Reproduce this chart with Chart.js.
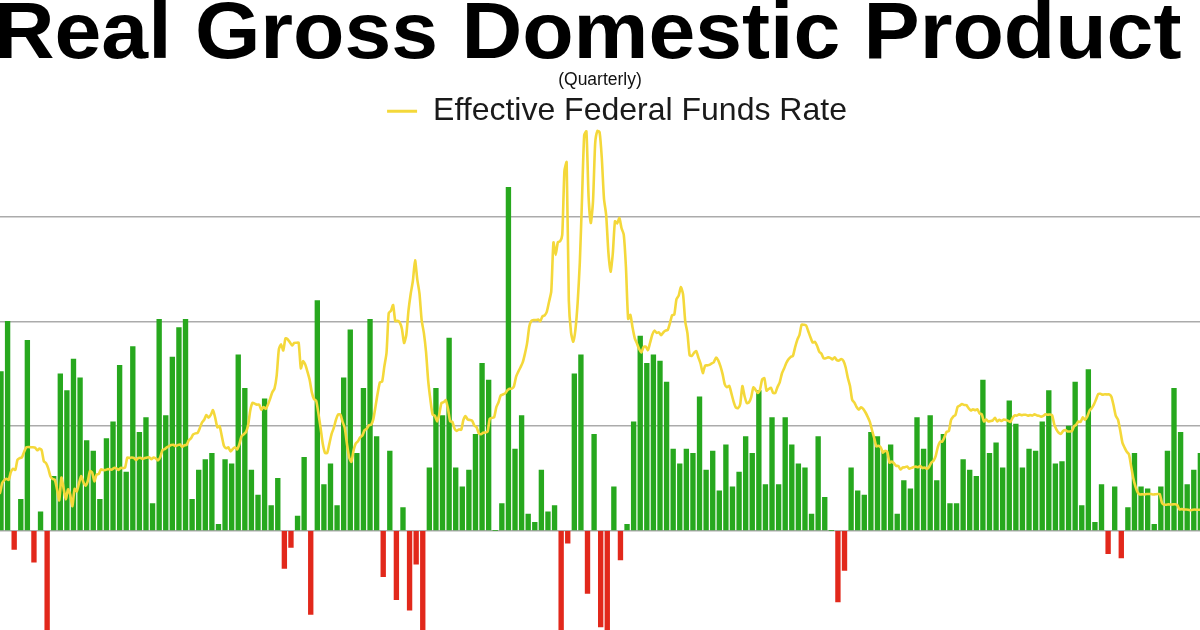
<!DOCTYPE html>
<html>
<head>
<meta charset="utf-8">
<title>Real Gross Domestic Product</title>
<script src="https://cdn.jsdelivr.net/npm/chart.js@4.4.0/dist/chart.umd.min.js"></script>
<style>
  html, body { margin: 0; padding: 0; background: #ffffff; overflow: hidden; }
  #wrap { position: relative; width: 1200px; height: 630px; }
</style>
</head>
<body>
<div id="wrap"><canvas id="chart"></canvas></div>
<script>
// ---------------- DATA ----------------
const chartTitle = 'Real Gross Domestic Product';
const chartSubtitle = '(Quarterly)';
const lineLabel = 'Effective Federal Funds Rate';

// Real GDP, quarterly % change (annualized), first value = 1959 Q1
const gdpStartYear = 1959;
const gdpGrowth = [
  7.6, 10.0, -0.9, 1.5,    9.1, -1.5, 0.9, -5.0,    2.6, 7.5, 6.7, 8.2,     7.3, 4.3, 3.8, 1.5,
  4.4, 5.2, 7.9, 2.8,      8.8, 4.7, 5.4, 1.3,      10.1, 5.5, 8.3, 9.7,    10.1, 1.5, 2.9, 3.4,
  3.7, 0.3, 3.4, 3.2,      8.4, 6.8, 2.9, 1.7,      6.3, 1.2, 2.5, -1.8,    -0.8, 0.7, 3.5, -4.0,
  11.0, 2.2, 3.2, 1.2,     7.3, 9.6, 3.7, 6.8,      10.1, 4.5, -2.2, 3.8,   -3.3, 1.1, -3.8, -1.6,
  -4.8, 3.0, 6.8, 5.5,     9.2, 3.0, 2.1, 2.9,      4.6, 8.0, 7.2, 0.0,     1.3, 16.4, 3.9, 5.5,
  0.8, 0.4, 2.9, 0.9,      1.2, -8.0, -0.6, 7.5,    8.4, -3.0, 4.6, -4.6,   -6.1, 2.1, -1.4, 0.3,
  5.2, 9.3, 8.0, 8.4,      8.1, 7.1, 3.9, 3.2,      3.9, 3.7, 6.4, 2.9,     3.8, 1.9, 4.1, 2.1,
  2.8, 4.5, 3.7, 6.7,      2.2, 5.4, 2.2, 5.4,      4.1, 3.2, 3.0, 0.8,     4.5, 1.6, 0.0, -3.4,
  -1.9, 3.0, 1.9, 1.7,     4.7, 4.5, 3.8, 4.1,      0.8, 2.4, 2.0, 5.4,     3.9, 5.5, 2.4, 4.6,
  1.3, 1.3, 3.4, 2.9,      2.6, 7.2, 3.7, 4.2,      3.0, 6.2, 5.1, 3.0,     3.9, 3.8, 5.2, 6.7,
  3.2, 3.3, 5.0, 7.1,      1.2, 7.7, 0.4, 2.2,      -1.1, 2.1, -1.3, 1.1,   3.7, 2.1, 2.0, 0.3,
  2.1, 3.8, 6.8, 4.7,      2.2, 2.9, 3.7
];

// Effective federal funds rate, monthly %, first value = Sep 1958
const fedFundsStart = { year: 1958, month: 9 };
const fedFunds = [
  1.76, 1.80, 2.27, 2.42,
  2.48, 2.43, 2.80, 2.96, 2.90, 3.39, 3.47, 3.50, 3.76, 3.98, 4.00, 3.99,
  3.99, 3.97, 3.84, 3.92, 3.85, 3.32, 3.23, 2.98, 2.60, 2.47, 2.44, 1.98,
  1.45, 2.54, 2.02, 1.49, 1.98, 1.73, 1.17, 2.00, 1.88, 2.26, 2.61, 2.33,
  2.15, 2.37, 2.85, 2.78, 2.36, 2.68, 2.71, 2.93, 2.90, 2.90, 2.94, 2.93,
  2.92, 3.00, 2.98, 2.90, 3.00, 2.99, 3.02, 3.49, 3.48, 3.50, 3.48, 3.38,
  3.48, 3.48, 3.43, 3.47, 3.50, 3.50, 3.42, 3.50, 3.45, 3.36, 3.52, 3.85,
  3.90, 3.98, 4.04, 4.09, 4.10, 4.04, 4.09, 4.12, 4.01, 4.08, 4.10, 4.32,
  4.42, 4.60, 4.65, 4.67, 4.90, 5.17, 5.30, 5.53, 5.40, 5.53, 5.76, 5.40,
  4.94, 5.00, 4.53, 4.05, 3.94, 3.98, 3.79, 3.90, 3.99, 3.88, 4.13, 4.51,
  4.61, 4.71, 5.05, 5.76, 6.11, 6.07, 6.02, 6.03, 5.78, 5.91, 5.82, 6.02,
  6.30, 6.61, 6.79, 7.41, 8.67, 8.90, 8.61, 9.19, 9.15, 9.00, 8.85, 8.97,
  8.98, 8.98, 7.76, 8.10, 7.94, 7.60, 7.21, 6.61, 6.29, 6.20, 5.60, 4.90,
  4.14, 3.72, 3.71, 4.16, 4.63, 4.91, 5.31, 5.56, 5.55, 5.20, 4.91, 4.14,
  3.50, 3.29, 3.83, 4.17, 4.27, 4.46, 4.55, 4.80, 4.87, 5.04, 5.06, 5.33,
  5.94, 6.58, 7.09, 7.12, 7.84, 8.49, 10.40, 10.50, 10.78, 10.01, 10.03, 9.95,
  9.65, 8.97, 9.35, 10.51, 11.31, 11.93, 12.92, 12.01, 11.34, 10.06, 9.45, 8.53,
  7.13, 6.24, 5.54, 5.49, 5.22, 5.55, 6.10, 6.14, 6.24, 5.82, 5.22, 5.20,
  4.87, 4.77, 4.84, 4.82, 5.29, 5.48, 5.31, 5.29, 5.25, 5.02, 4.95, 4.65,
  4.61, 4.68, 4.69, 4.73, 5.35, 5.39, 5.42, 5.90, 6.14, 6.47, 6.51, 6.56,
  6.70, 6.78, 6.79, 6.89, 7.36, 7.60, 7.81, 8.04, 8.45, 8.96, 9.76, 10.03,
  10.07, 10.06, 10.09, 10.01, 10.24, 10.29, 10.47, 10.94, 11.43, 13.77, 13.18, 13.78,
  13.82, 14.13, 17.19, 17.61, 10.98, 9.47, 9.03, 9.61, 10.87, 12.81, 15.85, 18.90,
  19.08, 15.93, 14.70, 15.72, 18.52, 19.10, 19.04, 17.82, 15.87, 15.08, 13.31, 12.37,
  13.22, 14.78, 14.68, 14.94, 14.45, 14.15, 12.59, 10.12, 10.31, 9.71, 9.20, 8.95,
  8.68, 8.51, 8.77, 8.80, 8.63, 8.98, 9.37, 9.56, 9.45, 9.48, 9.34, 9.47,
  9.56, 9.59, 9.91, 10.29, 10.32, 11.06, 11.23, 11.64, 11.30, 9.99, 9.43, 8.38,
  8.35, 8.50, 8.58, 8.27, 7.97, 7.53, 7.88, 7.90, 7.92, 7.99, 8.05, 8.27,
  8.14, 7.86, 7.48, 6.99, 6.85, 6.92, 6.56, 6.17, 5.89, 5.85, 6.04, 6.91,
  6.43, 6.10, 6.13, 6.37, 6.85, 6.73, 6.58, 6.73, 7.22, 7.29, 6.69, 6.77,
  6.83, 6.58, 6.58, 6.87, 7.09, 7.51, 7.75, 8.01, 8.19, 8.30, 8.35, 8.76,
  9.12, 9.36, 9.85, 9.84, 9.81, 9.53, 9.24, 8.99, 9.02, 8.84, 8.55, 8.45,
  8.23, 8.24, 8.28, 8.26, 8.18, 8.29, 8.15, 8.13, 8.20, 8.11, 7.81, 7.31,
  6.91, 6.25, 6.12, 5.91, 5.78, 5.90, 5.82, 5.66, 5.45, 5.21, 4.81, 4.43,
  4.03, 4.06, 3.98, 3.73, 3.82, 3.76, 3.25, 3.30, 3.22, 3.10, 3.09, 2.92,
  3.02, 3.03, 3.07, 2.96, 3.00, 3.04, 3.06, 3.03, 3.09, 2.99, 3.02, 2.96,
  3.05, 3.25, 3.34, 3.56, 4.01, 4.25, 4.26, 4.47, 4.73, 4.76, 5.29, 5.45,
  5.53, 5.92, 5.98, 6.05, 6.01, 6.00, 5.85, 5.74, 5.80, 5.76, 5.80, 5.60,
  5.56, 5.22, 5.31, 5.22, 5.24, 5.27, 5.40, 5.22, 5.30, 5.24, 5.31, 5.29,
  5.25, 5.19, 5.39, 5.51, 5.50, 5.56, 5.52, 5.54, 5.54, 5.50, 5.52, 5.50,
  5.56, 5.51, 5.49, 5.45, 5.49, 5.56, 5.54, 5.55, 5.51, 5.07, 4.83, 4.68,
  4.63, 4.76, 4.81, 4.74, 4.74, 4.76, 4.99, 5.07, 5.22, 5.20, 5.42, 5.30,
  5.45, 5.73, 5.85, 6.02, 6.27, 6.53, 6.54, 6.50, 6.52, 6.51, 6.51, 6.40,
  5.98, 5.49, 5.31, 4.80, 4.21, 3.97, 3.77, 3.65, 3.07, 2.49, 2.09, 1.82,
  1.73, 1.74, 1.73, 1.75, 1.75, 1.75, 1.73, 1.74, 1.75, 1.75, 1.34, 1.24,
  1.24, 1.26, 1.25, 1.26, 1.26, 1.22, 1.01, 1.03, 1.01, 1.01, 1.00, 0.98,
  1.00, 1.01, 1.00, 1.00, 1.00, 1.03
];

// Horizontal gridline values (% scale)
const gridValues = [0, 5, 10, 15];

// ---------------- STYLE ----------------
const GREEN = '#27a81e';
const RED = '#e2281b';
const YELLOW = '#f4d83a';
const GRID = '#ababab';
const FONT = "'Liberation Sans', Arial, Helvetica, sans-serif";
const TITLE_STRETCH = 1.065;

// visible window (the picture is a crop of a longer series)
const X_MIN = 1958.962, X_MAX = 2004.486;
const Y_MIN = -4.744, Y_MAX = 18.80;

// ---------------- BUILD ----------------
const barPoints = gdpGrowth.map((v, i) => ({ x: gdpStartYear + i / 4, y: v }));
const ffrFirstMonth = (fedFundsStart.year - 1959) * 12 + (fedFundsStart.month - 1);
const linePoints = fedFunds.map((v, i) => ({ x: 1959 + (ffrFirstMonth + i + 2.5) / 12, y: v }));

const tweak = {
  id: 'tweak',
  afterInit(chart) {
    const tb = chart.titleBlock;
    if (tb && !tb._wrapped) {
      const orig = tb.draw.bind(tb);
      tb.draw = function (area) {
        const c = chart.ctx;
        const cx = (tb.left + tb.right) / 2;
        c.save();
        c.translate(cx, 0);
        c.scale(TITLE_STRETCH, 1);
        c.translate(-cx, 0);
        orig(area);
        c.restore();
      };
      tb._wrapped = true;
    }
  },
  afterLayout(chart) {
    const tb = chart.titleBlock;
    if (tb) { tb.left -= 42.4; tb.right += 17.6; }
    const lg = chart.legend;
    if (lg) { lg.left += 17; lg.right += 17; }
  }
};

const chart = new Chart(document.getElementById('chart'), {
  type: 'bar',
  data: {
    datasets: [
      {
        type: 'line',
        label: lineLabel,
        data: linePoints,
        borderColor: YELLOW,
        backgroundColor: YELLOW,
        borderWidth: 2.6,
        borderJoinStyle: 'round',
        borderCapStyle: 'round',
        pointRadius: 0,
        tension: 0.2,
        fill: false,
        clip: false,
        order: 0
      },
      {
        type: 'bar',
        label: 'Real GDP',
        data: barPoints,
        backgroundColor: c => (c.raw && c.raw.y < 0 ? RED : GREEN),
        borderWidth: 0,
        barThickness: 4.7,
        order: 1
      }
    ]
  },
  options: {
    responsive: true,
    maintainAspectRatio: false,
    animation: false,
    events: [],
    layout: { padding: 0 },
    scales: {
      x: {
        type: 'linear',
        display: false,
        min: X_MIN,
        max: X_MAX,
        offset: false,
        grid: { display: false }
      },
      y: {
        type: 'linear',
        min: Y_MIN,
        max: Y_MAX,
        afterBuildTicks: s => { s.ticks = gridValues.map(v => ({ value: v })); },
        ticks: { display: false },
        border: { display: false },
        grid: { color: GRID, lineWidth: 1.5, drawTicks: false }
      }
    },
    plugins: {
      tooltip: { enabled: false },
      title: {
        display: true,
        text: chartTitle,
        color: '#000000',
        font: { family: FONT, size: 79, weight: 'bold', lineHeight: 0.9 },
        padding: { top: 0.5, bottom: 0.1 }
      },
      subtitle: {
        display: true,
        text: chartSubtitle,
        color: '#111111',
        font: { family: FONT, size: 17.5, weight: 'normal', lineHeight: 1 },
        padding: { top: 0, bottom: 0 }
      },
      legend: {
        display: true,
        position: 'top',
        labels: {
          font: { family: FONT, size: 32 },
          color: '#1a1a1a',
          boxWidth: 30,
          boxHeight: 3,
          padding: 6,
          generateLabels: () => [{
            text: lineLabel,
            fillStyle: YELLOW,
            strokeStyle: YELLOW,
            lineWidth: 0,
            hidden: false,
            datasetIndex: 0,
            fontColor: '#1a1a1a'
          }]
        }
      }
    }
  },
  plugins: [tweak]
});
</script>
</body>
</html>
